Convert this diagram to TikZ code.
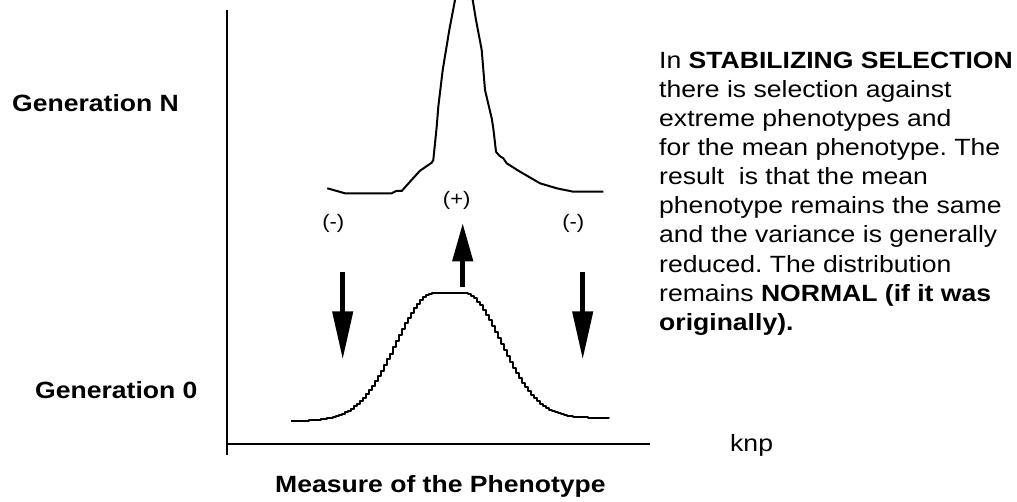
\documentclass[tikz,border=0pt]{standalone}
\usepackage{fontspec}
\setmainfont{Liberation Sans}[FakeStretch=1.13]
\frenchspacing
\usepackage{tikz}
\usetikzlibrary{arrows.meta, positioning, calc}
\tikzset{
  labeltext/.style={font=\fontsize{23.5}{29.1}\selectfont, inner sep=0pt},
  headtext/.style={font=\fontsize{23.5}{29.1}\selectfont\bfseries, inner sep=0pt, anchor=base west},
  signtext/.style={font=\fontsize{19.5}{22}\selectfont, inner sep=0pt},
  curve/.style={line width=2pt, line join=round},
  axis/.style={line width=2pt},
  selarrow/.style={line width=4.5pt, -{Triangle[length=#1, width=20pt]}}
}

\begin{document}
\begin{tikzpicture}[x=1pt, y=-1pt]
  \clip (0,0) rectangle (1017,502);

  % axes
  \coordinate (ytop) at (227,10);
  \coordinate (ybot) at (227,455);
  \coordinate (origin) at (227,444);
  \coordinate (xend) at (650,444);
  \draw[axis] (ytop) -- (ybot);
  \draw[axis] (origin) -- (xend);

  % labels
  \node[headtext] (genN) at (12,112) {Generation N};
  \node[headtext] (gen0) at (35,399) {Generation 0};
  \node[headtext] (measure) at (275,492) {Measure of the Phenotype};
  \node[labeltext, anchor=base west] (knp) at (730,451) {knp};

  % generation N
  \draw[curve] (327.3,188.3) -- (345,193.3) -- (391.7,193.3) -- (396,191) -- (401.7,191)
    -- (410,181.7) -- (420,170.7) -- (431.7,162.7) -- (433.3,160) -- (436.7,126.7)
    -- (438.3,106.7) -- (442.7,70) -- (449.3,30) -- (455,0) -- (458,-15)
    -- (470,-15) -- (472.7,0) -- (476,20) -- (481.7,50) -- (485,90) -- (491.7,118.3)
    -- (493.3,128.3) -- (496,151.7) -- (499.3,155.7) -- (503.3,158.3) -- (506.7,163.3)
    -- (520,171.7) -- (540,183.3) -- (556.7,188.3) -- (573.3,191.7) -- (603.3,191.7);

  % generation 0
  \draw[curve] plot[const plot, domain=291:609, samples=107]
    (\x, {\x<433 ? 421-128*exp(-0.5*((\x-433)/38)^2) : (\x>463 ? 418-125*exp(-0.5*((\x-463)/37)^2) : 293)});

  % selection
  \node[signtext] (minusL) at (333.3,223.3) {(-)};
  \node[signtext] (plus) at (456.7,200) {(+)};
  \node[signtext] (minusR) at (573.3,223.3) {(-)};
  \coordinate (downL) at (342.7,271.7);
  \coordinate (downR) at (582.7,271.7);
  \coordinate (up) at (462.7,286.7);
  \draw[selarrow=48pt] (downL) -- ++(0,87.6);
  \draw[selarrow=48pt] (downR) -- ++(0,87.6);
  \draw[selarrow=38pt] (up) -- ++(0,-63.4);

  \node[labeltext, anchor=north west, align=left] (desc) at (659,51.7) {
    In \textbf{STABILIZING SELECTION}\\
    there is selection against\\
    extreme phenotypes and\\
    for the mean phenotype. The\\
    result\ \ is that the mean\\
    phenotype remains the same\\
    and the variance is generally\\
    reduced. The distribution\\
    remains \textbf{NORMAL (if it was}\\
    \textbf{originally).}};
\end{tikzpicture}
\end{document}
